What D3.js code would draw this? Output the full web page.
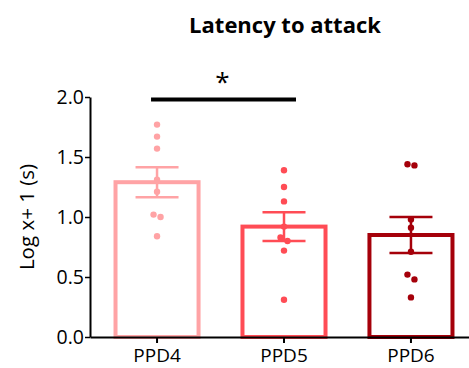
<!DOCTYPE html>
<html>
<head>
<meta charset="utf-8">
<script src="https://cdn.jsdelivr.net/npm/d3@7"></script>
<style>
  body { margin: 0; background: #fff; }
  text { font-family: "Open Sans", sans-serif; }
</style>
</head>
<body>
<div class="chart_bar"></div>
<script>
// data
var groups = ["PPD4", "PPD5", "PPD6"];
var means = [1.29, 0.92, 0.85];
var sems = [0.125, 0.12, 0.15];
var ppd4Points = [1.77, 1.67, 1.57, 1.31, 1.21, 1.02, 1.00, 0.84];
var ppd5Points = [1.39, 1.25, 1.13, 0.92, 0.83, 0.80, 0.72, 0.31];
var ppd6Points = [1.44, 1.43, 0.98, 0.91, 0.71, 0.52, 0.48, 0.33];
var yTicks = [0, 0.5, 1.0, 1.5, 2.0];
var colors = ["#ffa3a5", "#ff4c55", "#a5000a"];

function barChart(_sel){
  var sel = _sel || ".chart_bar";
  var W = 469, H = 368;
  var margin = {top: 97, left: 90, bottom: 31};

  var svg = d3.select(sel).append("svg")
    .attr("width", W)
    .attr("height", H);

  var xScale = d3.scaleBand()
    .domain(groups)
    .range([margin.left, 478])
    .paddingInner(0.346)
    .paddingOuter(0.201);

  var yScale = d3.scaleLinear()
    .domain([0, 2])
    .range([H - margin.bottom, margin.top]);

  var allPoints = [ppd4Points, ppd5Points, ppd6Points];

  // bars
  svg.selectAll(".bar")
    .data(groups)
    .enter().append("rect")
    .attr("class", "bar")
    .attr("x", function(d){ return xScale(d); })
    .attr("y", function(d, i){ return yScale(means[i]); })
    .attr("width", xScale.bandwidth())
    .attr("height", function(d, i){ return yScale(0) - yScale(means[i]); })
    .attr("fill", "#fff")
    .attr("stroke", function(d, i){ return colors[i]; })
    .attr("stroke-width", 4);

  // dots, nudge neighbours that would overlap
  groups.forEach(function(g, i){
    var cx = xScale(g) + xScale.bandwidth() / 2;
    var pts = allPoints[i].map(function(v){ return {v: v, dx: 0}; });
    for (var k = 1; k < pts.length; k++){
      if (Math.abs(yScale(pts[k].v) - yScale(pts[k-1].v)) < 6 && pts[k-1].dx === 0){
        pts[k-1].dx = -3.5;
        pts[k].dx = 3.5;
      }
    }
    svg.selectAll(".dot" + i)
      .data(pts)
      .enter().append("circle")
      .attr("cx", function(d){ return cx + d.dx; })
      .attr("cy", function(d){ return yScale(d.v); })
      .attr("r", 3.2)
      .attr("fill", colors[i]);
  });

  // error bars
  groups.forEach(function(g, i){
    var cx = xScale(g) + xScale.bandwidth() / 2;
    var top = yScale(means[i] + sems[i]), bot = yScale(means[i] - sems[i]);
    var eg = svg.append("g")
      .attr("stroke", colors[i])
      .attr("stroke-width", 2.5);
    eg.append("line").attr("x1", cx).attr("x2", cx).attr("y1", top).attr("y2", bot);
    eg.append("line").attr("x1", cx - 21.5).attr("x2", cx + 21.5).attr("y1", top).attr("y2", top);
    eg.append("line").attr("x1", cx - 21.5).attr("x2", cx + 21.5).attr("y1", bot).attr("y2", bot);
  });

  // axes
  var yAxis = svg.append("g")
    .attr("transform", "translate(" + margin.left + ",0)")
    .call(d3.axisLeft(yScale).tickValues(yTicks).tickSize(5).tickSizeOuter(0)
      .tickFormat(d3.format(".1f")));
  yAxis.select(".domain").attr("stroke-width", 2);
  yAxis.selectAll(".tick line").attr("stroke-width", 1.5);
  yAxis.selectAll(".tick text")
    .attr("x", -6)
    .attr("font-size", 19.5)
    .attr("font-family", "Open Sans, sans-serif")
    .attr("fill", "#000");

  var xAxis = svg.append("g")
    .attr("transform", "translate(0," + yScale(0) + ")")
    .call(d3.axisBottom(xScale).tickSize(6).tickSizeOuter(0));
  xAxis.select(".domain").attr("stroke-width", 2);
  xAxis.selectAll(".tick line").attr("stroke-width", 2);
  xAxis.selectAll(".tick text")
    .attr("y", 12)
    .attr("font-size", 19)
    .attr("font-family", "Open Sans, sans-serif")
    .attr("fill", "#000");

  // y label
  svg.append("text")
    .attr("transform", "translate(34," + yScale(1) + ") rotate(-90)")
    .attr("text-anchor", "middle")
    .attr("font-size", 20.5)
    .text("Log x+ 1 (s)");

  // title
  svg.append("text")
    .attr("x", 285)
    .attr("y", 33)
    .attr("text-anchor", "middle")
    .attr("font-size", 22)
    .attr("font-weight", "bold")
    .text("Latency to attack");

  // significance
  var c0 = xScale("PPD4") + xScale.bandwidth() / 2, c1 = xScale("PPD5") + xScale.bandwidth() / 2;
  svg.append("line")
    .attr("x1", c0 - 6).attr("x2", c1 + 12)
    .attr("y1", yScale(1.98)).attr("y2", yScale(1.98))
    .attr("stroke", "#000")
    .attr("stroke-width", 4);
  svg.append("text")
    .attr("x", (c0 + c1) / 2 + 2)
    .attr("y", 91)
    .attr("text-anchor", "middle")
    .attr("font-size", 26)
    .text("*");
}

barChart(".chart_bar");
</script>
</body>
</html>
